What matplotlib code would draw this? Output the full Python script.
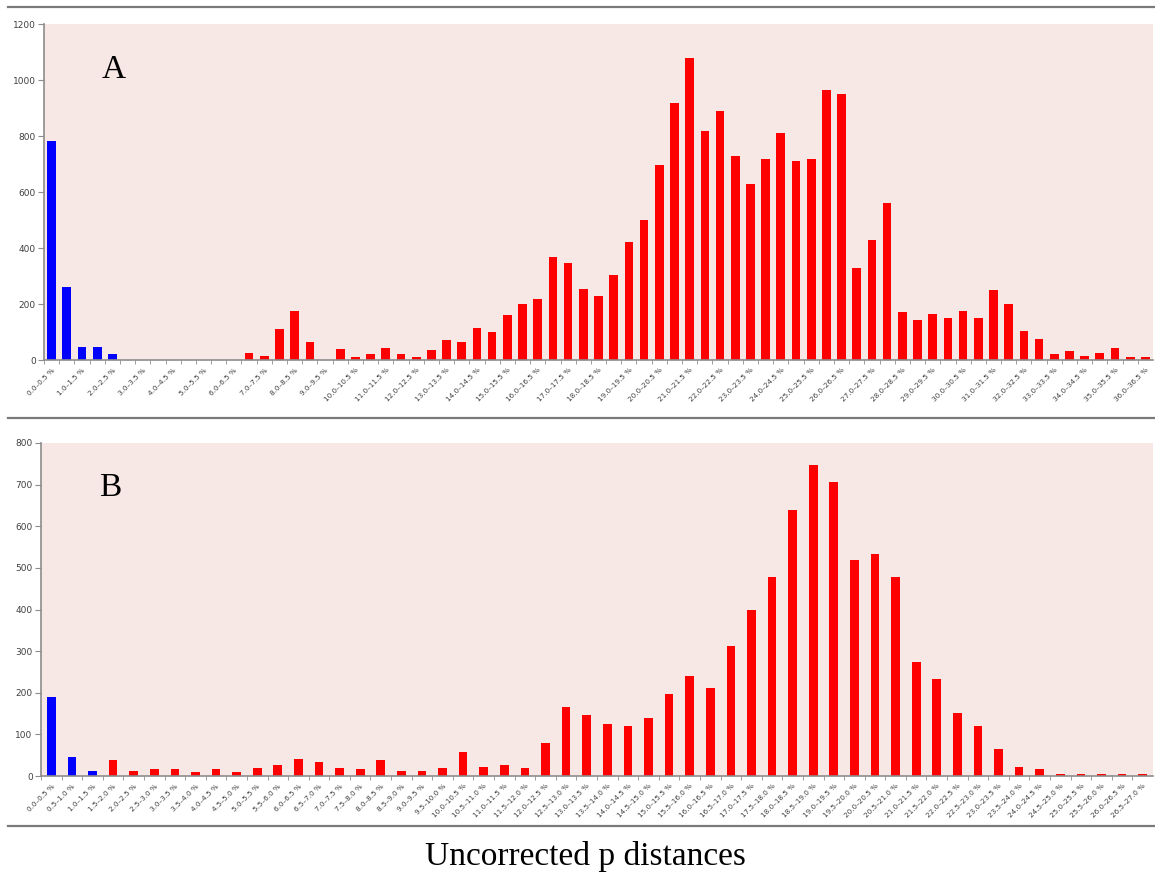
import matplotlib
matplotlib.use("Agg")
import matplotlib.pyplot as plt
from matplotlib.lines import Line2D

# ---- Panel A: 0.5 % bins from 0.0 to 36.5 %
bins_a = [f"{i*0.5:.1f}–{(i+1)*0.5:.1f} %" for i in range(73)]
counts_a = [
    783, 260, 48, 48, 20, 0, 0, 0, 0, 0,
    0, 0, 0, 26, 14, 110, 176, 65, 0, 38,
    10, 20, 42, 20, 10, 37, 71, 65, 115, 99,
    161, 200, 217, 367, 345, 255, 227, 305, 423, 501,
    695, 917, 1080, 818, 890, 730, 629, 717, 812, 712,
    717, 963, 951, 327, 429, 562, 171, 143, 165, 149,
    176, 149, 250, 200, 105, 75, 21, 32, 15, 26,
    43, 10, 10,
]
n_blue_a = 5

# ---- Panel B: 0.5 % bins from 0.0 to 27.0 %
bins_b = [f"{i*0.5:.1f}–{(i+1)*0.5:.1f} %" for i in range(54)]
counts_b = [
    189, 45, 12, 38, 12, 16, 16, 9, 16, 9,
    19, 27, 42, 34, 19, 16, 38, 12, 12, 19,
    57, 22, 26, 19, 79, 166, 147, 125, 121, 139,
    196, 240, 211, 312, 398, 477, 639, 748, 706, 519,
    534, 477, 274, 233, 151, 121, 64, 22, 16, 4,
    4, 4, 4, 4,
]
n_blue_b = 3

BLUE = "#0000FF"
RED = "#FF0000"
PANEL_BG = "#F8E8E5"
AXIS_GREY = "#8C8C8C"
TEXT_GREY = "#404040"

W, H = 1155, 877
fig = plt.figure(figsize=(W / 100, H / 100), dpi=100)
fig.patch.set_facecolor("white")


def px_rect(x0, y0, x1, y1):
    return [x0 / W, 1 - y1 / H, (x1 - x0) / W, (y1 - y0) / H]


def draw_panel(ax, labels, counts, n_blue, width, ymax, ystep, label_every, letter):
    xs = list(range(len(counts)))
    colors = [BLUE if i < n_blue else RED for i in xs]
    ax.bar(xs, counts, width=width, color=colors, edgecolor="none", zorder=2)
    ax.set_facecolor(PANEL_BG)
    ax.set_xlim(-0.5, len(counts) - 0.5)
    ax.set_ylim(0, ymax)
    for s in ("top", "right"):
        ax.spines[s].set_visible(False)
    for s in ("left", "bottom"):
        ax.spines[s].set_color(AXIS_GREY)
        ax.spines[s].set_linewidth(1.2)
    ax.set_yticks(range(0, ymax + 1, ystep))
    ax.tick_params(axis="y", length=4, color=AXIS_GREY, labelsize=6.5,
                   labelcolor=TEXT_GREY, pad=2)
    major = xs[::label_every]
    ax.set_xticks(major)
    ax.set_xticklabels([labels[i] for i in major], rotation=45, ha="right",
                       rotation_mode="anchor", fontsize=5.2, color=TEXT_GREY)
    ax.set_xticks([i + 0.5 for i in xs[:-1]] + [-0.5], minor=True)
    ax.tick_params(axis="x", which="major", length=0, pad=5)
    ax.tick_params(axis="x", which="minor", length=3, color=AXIS_GREY)
    ax.text(0.052, 0.865, letter, transform=ax.transAxes, fontsize=24,
            family="Liberation Serif", va="center", ha="left", color="black")


ax_a = fig.add_axes(px_rect(44, 24, 1153, 360))
draw_panel(ax_a, bins_a, counts_a, n_blue_a, 0.57, 1200, 200, 2, "A")

ax_b = fig.add_axes(px_rect(41, 443, 1153, 776))
draw_panel(ax_b, bins_b, counts_b, n_blue_b, 0.42, 800, 100, 1, "B")

# separator rules between the panels
for y in (7, 418, 826):
    fig.add_artist(Line2D([8 / W, 1.0], [1 - y / H, 1 - y / H],
                          color="#7A7A7A", linewidth=1.6,
                          transform=fig.transFigure))

fig.text(585 / W, 1 - 857 / H, "Uncorrected p distances", ha="center",
         va="center", fontsize=24, family="Liberation Serif", color="black")

fig.savefig("out.png", dpi=100, facecolor="white")
